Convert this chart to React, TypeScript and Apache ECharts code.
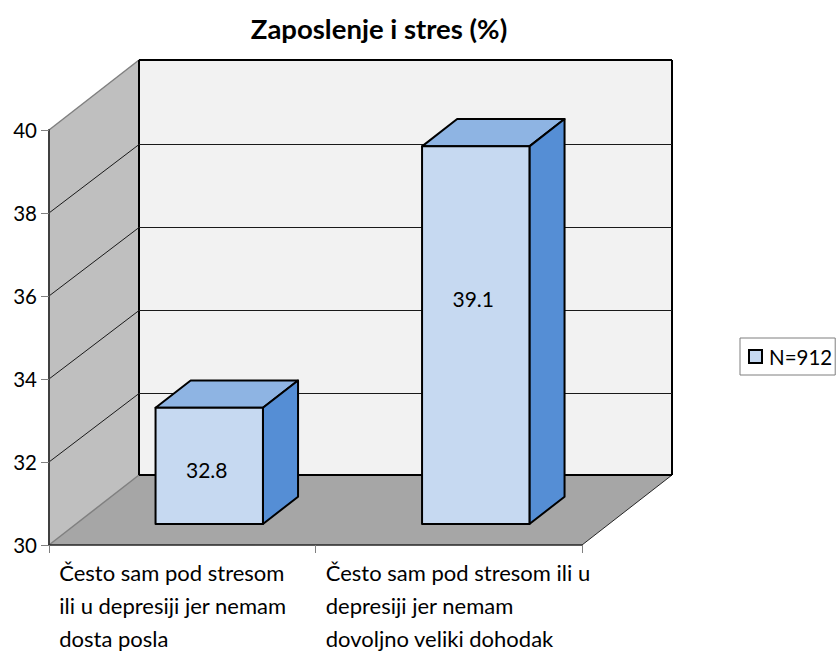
import React, { useEffect, useRef } from "react";
import * as echarts from "echarts";

const titleText = "Zaposlenje i stres (%)";
const categories = [
  "Često sam pod stresom\nili u depresiji jer nemam\ndosta posla",
  "Često sam pod stresom ili u\ndepresiji jer nemam\ndovoljno veliki dohodak",
];
const seriesName = "N=912";
const values = [32.8, 39.1];
const labelLevels = [31.28, 35.42];
const gridTicks = [32, 34, 36, 38];
const yMin = 30;
const yMax = 40;
const yStep = 2;

const FONT = "Lato, Carlito, Calibri, sans-serif";
const DX = 90;
const DY = 70;
const BAR_NEAR = 0.3;
const BAR_FAR = 0.69;
const BAR_WIDTH = 0.403;

function wallsRender(params: any) {
  const c = params.coordSys;
  const l = c.x, r = c.x + c.width, t = c.y, b = c.y + c.height;
  const poly = (points: number[][], fill: string) => ({
    type: "polygon",
    shape: { points },
    style: { fill, stroke: "none" },
  });
  const seg = (x1: number, y1: number, x2: number, y2: number, stroke: string, lineWidth: number) => ({
    type: "line",
    shape: { x1, y1, x2, y2 },
    style: { stroke, lineWidth },
  });
  return {
    type: "group",
    children: [
      poly([[l + DX, t - DY], [r + DX, t - DY], [r + DX, b - DY], [l + DX, b - DY]], "#F2F2F2"),
      poly([[l, t], [l + DX, t - DY], [l + DX, b - DY], [l, b]], "#BFBFBF"),
      poly([[l, b], [l + DX, b - DY], [r + DX, b - DY], [r, b]], "#A6A6A6"),
      seg(l, t, l + DX, t - DY, "#808080", 1.5),
      seg(l, b, l + DX, b - DY, "#808080", 1.5),
      seg(r, b, r + DX, b - DY, "#262626", 1),
      seg(l + DX, t - DY, r + DX, t - DY, "#000000", 2),
      seg(l + DX, t - DY, l + DX, b - DY, "#000000", 2),
      seg(r + DX, t - DY, r + DX, b - DY, "#000000", 2),
      seg(l + DX, b - DY, r + DX, b - DY, "#000000", 2),
    ],
  };
}

function gridRender(params: any, api: any) {
  const c = params.coordSys;
  const l = c.x, r = c.x + c.width;
  const y = Math.round(api.coord([0, api.value(1)])[1]);
  const by = y - DY + 1.5;
  return {
    type: "group",
    children: [
      { type: "line", shape: { x1: l, y1: y, x2: l + DX, y2: by }, style: { stroke: "#1a1a1a", lineWidth: 1 } },
      { type: "line", shape: { x1: l + DX, y1: by, x2: r + DX, y2: by }, style: { stroke: "#1a1a1a", lineWidth: 1 } },
    ],
  };
}

function barRender(params: any, api: any) {
  const idx = api.value(0);
  const v = api.value(1);
  const [cx, top0] = api.coord([idx, v]);
  const base0 = api.coord([idx, yMin])[1];
  const w = api.size([1, 0])[0] * BAR_WIDTH;
  const nx = DX * BAR_NEAR, ny = DY * BAR_NEAR;
  const fx = DX * (BAR_FAR - BAR_NEAR), fy = DY * (BAR_FAR - BAR_NEAR);
  const x0 = cx + nx - w / 2, x1 = cx + nx + w / 2;
  const yTop = top0 - ny, yBase = base0 - ny;
  const labelY = api.coord([idx, labelLevels[params.dataIndex]])[1] - ny;
  const stroke = { stroke: "#000000", lineWidth: 2, lineJoin: "round" };
  return {
    type: "group",
    children: [
      { type: "polygon", shape: { points: [[x0, yTop], [x0 + fx, yTop - fy], [x1 + fx, yTop - fy], [x1, yTop]] }, style: { fill: "#8EB4E3", ...stroke } },
      { type: "polygon", shape: { points: [[x1, yTop], [x1 + fx, yTop - fy], [x1 + fx, yBase - fy], [x1, yBase]] }, style: { fill: "#558ED5", ...stroke } },
      { type: "polygon", shape: { points: [[x0, yTop], [x1, yTop], [x1, yBase], [x0, yBase]] }, style: { fill: "#C6D9F1", ...stroke } },
      {
        type: "text",
        style: {
          text: String(v),
          x: (x0 + x1) / 2 - 2.5,
          y: labelY - 1,
          align: "center",
          verticalAlign: "middle",
          fontFamily: FONT,
          fontSize: 21,
          fill: "#000000",
        },
      },
    ],
  };
}

export default function App() {
  const ref = useRef<HTMLDivElement>(null);
  useEffect(() => {
    const chart = echarts.init(ref.current!, undefined, { renderer: "svg" });
    chart.setOption({
      animation: false,
      backgroundColor: "#ffffff",
      title: {
        text: titleText,
        left: 374,
        top: 9,
        textAlign: "center",
        textStyle: { fontFamily: FONT, fontSize: 27.5, fontWeight: "bold", color: "#000000" },
      },
      legend: {
        left: 740,
        top: 338,
        orient: "vertical",
        padding: [8, 3, 8, 8],
        borderColor: "#7F7F7F",
        borderWidth: 1,
        itemWidth: 13,
        itemHeight: 13,
        itemGap: 0,
        data: [
          {
            name: seriesName,
            icon: "rect",
            itemStyle: { color: "#C6D9F1", borderColor: "#000000", borderWidth: 2 },
          },
        ],
        textStyle: { fontFamily: FONT, fontSize: 20.5, color: "#000000", padding: [0, 0, 0, 2] },
      },
      grid: { left: 49, right: 258, top: 130, bottom: 107, outerBoundsMode: "none" },
      xAxis: {
        type: "category",
        data: categories,
        z: 5,
        axisLine: { lineStyle: { color: "#262626", width: 1.5 } },
        axisTick: { show: true, length: 8, lineStyle: { color: "#808080", width: 1 } },
        axisLabel: {
          interval: 0,
          margin: 19,
          formatter: (s: string) => {
            const [a, b, c] = s.split("\n");
            return `{a|${a}}\n{b|${b}}\n{a|${c}}`;
          },
          rich: {
            a: { width: 246, align: "left", fontFamily: FONT, fontSize: 22, lineHeight: 16, color: "#000000" },
            b: { width: 246, align: "left", fontFamily: FONT, fontSize: 22, lineHeight: 50, color: "#000000" },
          },
        },
      },
      yAxis: {
        type: "value",
        min: yMin,
        max: yMax,
        interval: yStep,
        z: 5,
        splitLine: { show: false },
        axisLine: { show: true, lineStyle: { color: "#404040", width: 2 } },
        axisTick: { show: true, length: 8, lineStyle: { color: "#808080", width: 1 } },
        axisLabel: { margin: 12, fontFamily: FONT, fontSize: 20.5, color: "#000000" },
      },
      series: [
        { type: "custom", name: "walls", coordinateSystem: "cartesian2d", clip: false, silent: true, z: 1, renderItem: wallsRender, data: [[0, yMin]] },
        { type: "custom", name: "grid", coordinateSystem: "cartesian2d", clip: false, silent: true, z: 2, renderItem: gridRender, data: gridTicks.map((t) => [0, t]) },
        { type: "custom", name: seriesName, coordinateSystem: "cartesian2d", clip: false, z: 3, renderItem: barRender, itemStyle: { color: "#C6D9F1" }, data: values.map((v, i) => [i, v]) },
      ],
    });
    return () => chart.dispose();
  }, []);
  return <div ref={ref} style={{ position: "absolute", left: 0, top: 0, width: 840, height: 652 }} />;
}
